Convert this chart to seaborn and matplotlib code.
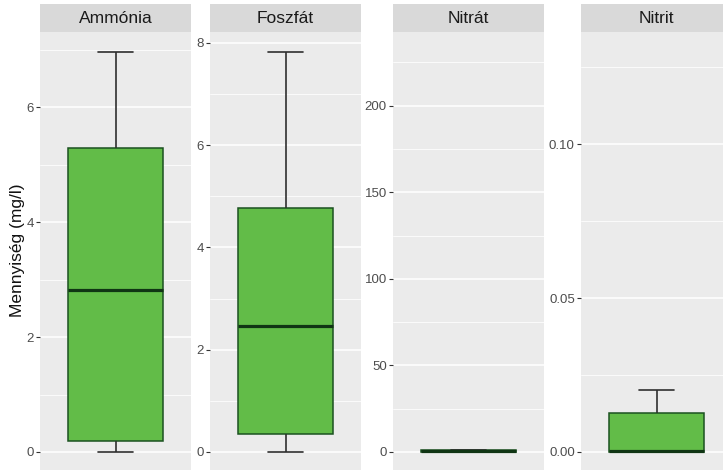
import matplotlib
matplotlib.use("Agg")
import matplotlib.pyplot as plt
import numpy as np
import pandas as pd
import seaborn as sns

# Measured substances (one facet each)
substances = ["Ammónia", "Foszfát", "Nitrát", "Nitrit"]

# Five-number summaries: minimum, Q1, median, Q3, upper whisker (mg/l)
ammonia = [0.0, 0.19, 2.82, 5.29, 6.96]
foszfat = [0.0, 0.35, 2.46, 4.77, 7.82]
nitrat = [0.0, 0.0, 0.5, 1.0, 1.0]
nitrit = [0.0, 0.0, 0.0003, 0.0127, 0.020]

# Largest measured value per substance (outliers are hidden but set the scale)
max_values = [6.96, 7.82, 231.0, 0.13]

# Axis breaks and their labels for each facet
y_ticks = [[0, 2, 4, 6], [0, 2, 4, 6, 8], [0, 50, 100, 150, 200], [0.00, 0.05, 0.10]]
tick_labels = [["0", "2", "4", "6"], ["0", "2", "4", "6", "8"],
               ["0", "50", "100", "150", "200"], ["0.00", "0.05", "0.10"]]
y_label = "Mennyiség (mg/l)"

summaries = [ammonia, foszfat, nitrat, nitrit]
df = pd.DataFrame({
    "anyag": np.repeat(substances, 5),
    "ertek": np.concatenate(summaries),
})

sns.set_style("white")
plt.rcParams["font.family"] = ["Liberation Sans", "DejaVu Sans"]

W, H = 723, 470
fig = plt.figure(figsize=(W / 100, H / 100), dpi=100)

panel_left = [40, 210, 393, 581]
panel_w = 151
panel_top, panel_bottom = 32, 472
strip_top = 4

FILL = "#62BC48"
EDGE = "#1B5220"
MEDIAN = "#103514"
WHISK = "#2F2F2F"
PANEL_BG = "#EBEBEB"
STRIP_BG = "#D9D9D9"

for i, name in enumerate(substances):
    L = panel_left[i]
    ax = fig.add_axes([L / W, (H - panel_bottom) / H, panel_w / W,
                       (panel_bottom - panel_top) / H])
    ax.set_facecolor(PANEL_BG)
    sub = df[df["anyag"] == name]
    sns.boxplot(data=sub, y="ertek", ax=ax, width=0.75, whis=(0, 100),
                showfliers=False, color=FILL, linecolor=EDGE, linewidth=1.0,
                boxprops=dict(facecolor=FILL, edgecolor=EDGE, linewidth=1.1),
                whiskerprops=dict(color=WHISK, linewidth=1.2),
                capprops=dict(color=WHISK, linewidth=1.2),
                medianprops=dict(color=MEDIAN, linewidth=2.3),
                capwidths=0.28, zorder=3)
    lo = min(summaries[i][0], 0.0)
    hi = max_values[i]
    pad = (hi - lo) * 0.05
    ax.set_ylim(lo - pad, hi + pad)
    ax.set_xlim(-0.6, 0.6)

    majors = y_ticks[i]
    step = majors[1] - majors[0]
    minors = [m + step / 2 for m in [majors[0] - step] + majors]
    minors = [m for m in minors if lo - pad < m < hi + pad]
    for m in minors:
        ax.axhline(m, color="white", linewidth=0.55, zorder=0)
    for m in majors:
        ax.axhline(m, color="white", linewidth=1.1, zorder=0)

    ax.set_yticks(majors)
    ax.set_yticklabels(tick_labels[i])
    ax.tick_params(axis="y", length=3, width=0.8, color="#333333", pad=1.5,
                   labelsize=9.5, labelcolor="#4D4D4D", left=True)
    ax.set_xticks([])
    ax.set_xlabel("")
    ax.set_ylabel("")
    for s in ax.spines.values():
        s.set_visible(False)

    sax = fig.add_axes([L / W, (H - panel_top) / H, panel_w / W,
                        (panel_top - strip_top) / H])
    sax.set_facecolor(STRIP_BG)
    sax.set_xticks([])
    sax.set_yticks([])
    for s in sax.spines.values():
        s.set_visible(False)
    sax.text(0.5, 0.47, name, ha="center", va="center", fontsize=12.5,
             color="#1A1A1A", transform=sax.transAxes)

fig.text(18 / W, 1 - 250 / H, y_label, rotation=90, ha="center", va="center",
         fontsize=12.5, color="#111111")

fig.savefig("out.png", dpi=100, facecolor="white")
